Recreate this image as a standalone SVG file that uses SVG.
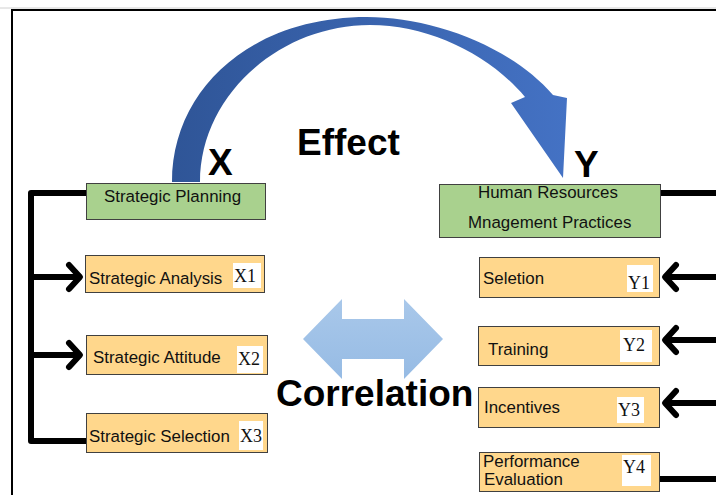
<svg xmlns="http://www.w3.org/2000/svg" width="716" height="495" viewBox="0 0 716 495">
  <defs>
    <linearGradient id="arcFill" x1="172" y1="0" x2="567" y2="0" gradientUnits="userSpaceOnUse">
      <stop offset="0" stop-color="#2F5597"/>
      <stop offset="1" stop-color="#4472C4"/>
    </linearGradient>
    <linearGradient id="dblFill" x1="0" y1="299" x2="0" y2="379" gradientUnits="userSpaceOnUse">
      <stop offset="0" stop-color="#A9C8EA"/>
      <stop offset="1" stop-color="#96BBE4"/>
    </linearGradient>
    <style>
      .main { fill: #A9D18E; stroke: #404040; stroke-width: 1; }
      .item { fill: #FFD78C; stroke: #404040; stroke-width: 1; }
      .tag { fill: #FFFFFF; }
      .lbl { font-family: "Liberation Sans", Arial, sans-serif; font-size: 16.9px; fill: #111; }
      .code { font-family: "Liberation Serif", "Times New Roman", serif; font-size: 18px; fill: #111; }
      .big { font-family: "Liberation Sans", Arial, sans-serif; font-weight: bold; font-size: 37px; fill: #000; }
      .wire { fill: none; stroke: #000; stroke-width: 6; stroke-linejoin: round; }
      .head { fill: none; stroke: #000; stroke-width: 6; stroke-linecap: round; stroke-linejoin: round; }
    </style>
  </defs>

  <rect width="716" height="495" fill="#FFFFFF"/>

  <!-- frame -->
  <line x1="0" y1="8" x2="716" y2="8" stroke="#D0D0D0" stroke-width="1"/>
  <path d="M12,495 V10 H716" fill="none" stroke="#000" stroke-width="2"/>

  <!-- curved effect arrow from X to Y -->
  <g id="effect-arrow">
    <path fill="url(#arcFill)" d="M172,182 C172,90 250,17 367,17 C430,17 510,45 553,95 L567,98 L563,178 L511,103 L525,97 C490,55 430,25 370,25 C280,25 200,95 200,182 Z"/>
  </g>

  <text class="big" x="208" y="175">X</text>
  <text class="big" x="574" y="177">Y</text>
  <text class="big" x="297" y="155">Effect</text>

  <!-- correlation double arrow -->
  <g id="correlation-arrow">
    <path fill="url(#dblFill)" d="M303,339 L342,299 L342,319 L404,319 L404,299 L443,339 L404,379 L404,359 L342,359 L342,379 Z"/>
  </g>
  <text class="big" x="276" y="406">Correlation</text>

  <!-- connectors -->
  <g id="connectors">
    <path class="wire" d="M86,193 H31 V441 H86"/>
    <line class="wire" x1="31" y1="277" x2="78" y2="277"/>
    <polyline class="head" points="69,265 80,277 69,289"/>
    <line class="wire" x1="31" y1="355" x2="78" y2="355"/>
    <polyline class="head" points="69,343 80,355 69,367"/>

    <line class="wire" x1="660" y1="193" x2="716" y2="193"/>
    <line class="wire" x1="667" y1="277" x2="716" y2="277"/>
    <polyline class="head" points="676,265 665,277 676,289"/>
    <line class="wire" x1="667" y1="340" x2="716" y2="340"/>
    <polyline class="head" points="676,328 665,340 676,352"/>
    <line class="wire" x1="667" y1="403" x2="716" y2="403"/>
    <polyline class="head" points="676,391 665,403 676,415"/>
    <line class="wire" x1="660" y1="479" x2="716" y2="479" stroke-linecap="round"/>
  </g>

  <!-- X side -->
  <g id="strategic-planning">
    <rect class="main" x="86.5" y="183.5" width="179" height="36"/>
    <text class="lbl" x="104" y="202">Strategic Planning</text>
  </g>
  <g id="strategic-analysis">
    <rect class="item" x="85.5" y="255.5" width="179" height="37"/>
    <text class="lbl" x="89" y="284">Strategic Analysis</text>
    <rect class="tag" x="233" y="263" width="28" height="25"/>
    <text class="code" x="234" y="282">X1</text>
  </g>
  <g id="strategic-attitude">
    <rect class="item" x="86.5" y="335.5" width="181" height="39"/>
    <text class="lbl" x="93" y="363">Strategic Attitude</text>
    <rect class="tag" x="237" y="346" width="26" height="27"/>
    <text class="code" x="238" y="365">X2</text>
  </g>
  <g id="strategic-selection">
    <rect class="item" x="86.5" y="413.5" width="181" height="39"/>
    <text class="lbl" x="89" y="442">Strategic Selection</text>
    <rect class="tag" x="239" y="421" width="24" height="29"/>
    <text class="code" x="240" y="442">X3</text>
  </g>

  <!-- Y side -->
  <g id="hrm-practices">
    <rect class="main" x="439.5" y="184.5" width="221" height="53"/>
    <text class="lbl" x="478" y="198">Human Resources</text>
    <text class="lbl" x="468" y="228">Mnagement Practices</text>
  </g>
  <g id="selection">
    <rect class="item" x="479.5" y="257.5" width="180" height="40"/>
    <text class="lbl" x="483" y="284">Seletion</text>
    <rect class="tag" x="627" y="265" width="26" height="27"/>
    <text class="code" x="628" y="289">Y1</text>
  </g>
  <g id="training">
    <rect class="item" x="478.5" y="326.5" width="181" height="39"/>
    <text class="lbl" x="488" y="355">Training</text>
    <rect class="tag" x="620" y="330" width="32" height="32"/>
    <text class="code" x="623" y="351">Y2</text>
  </g>
  <g id="incentives">
    <rect class="item" x="478.5" y="387.5" width="181" height="40"/>
    <text class="lbl" x="484" y="413">Incentives</text>
    <rect class="tag" x="617" y="397" width="27" height="26"/>
    <text class="code" x="618" y="416">Y3</text>
  </g>
  <g id="performance-evaluation">
    <rect class="item" x="479.5" y="452.5" width="180" height="39"/>
    <text class="lbl" x="483" y="467">Performance</text>
    <text class="lbl" x="484" y="485">Evaluation</text>
    <rect class="tag" x="622" y="455" width="29" height="31"/>
    <text class="code" x="623" y="473">Y4</text>
  </g>
</svg>
